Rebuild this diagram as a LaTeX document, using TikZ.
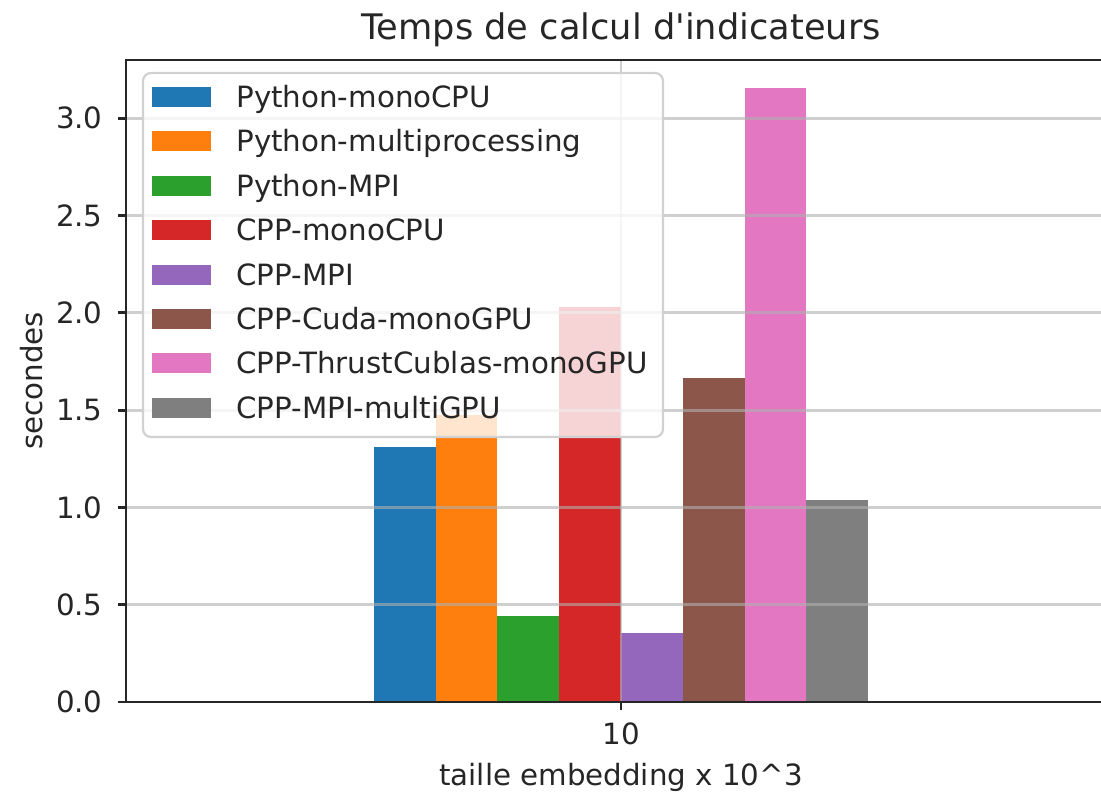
\documentclass[tikz,border=0pt]{standalone}
\usepackage{fontspec}
\newfontfamily\plotfont{DejaVu Sans}
\definecolor{tabblue}{HTML}{1F77B4}
\definecolor{taborange}{HTML}{FF7F0E}
\definecolor{tabgreen}{HTML}{2CA02C}
\definecolor{tabred}{HTML}{D62728}
\definecolor{tabpurple}{HTML}{9467BD}
\definecolor{tabbrown}{HTML}{8C564B}
\definecolor{tabpink}{HTML}{E377C2}
\definecolor{tabgray}{HTML}{7F7F7F}
\definecolor{gridgray}{HTML}{B0B0B0}
\definecolor{inkgray}{HTML}{262626}
\begin{document}
\begin{tikzpicture}[x=0.5pt,y=-0.5pt,
  font=\plotfont\fontsize{14.65}{17}\selectfont,
  gridline/.style={draw=gridgray,draw opacity=0.6,line width=1.4pt},
  spine/.style={draw=inkgray,line width=1.4pt},
  ticklabel/.style={inner sep=0pt,text=inkgray},
  legendframe/.style={draw=black!18,line width=1.1pt,fill=white,fill opacity=0.8,rounded corners=4pt},
  swatch/.style={inner sep=0pt}
]
% scale: value 1 s = 194.6 px, baseline at y = 702
\useasboundingbox (0,0) rectangle (1101,792);
\fill[white] (0,0) rectangle (1101,792);

% bars
\foreach \i/\h/\c in {0/1.31/tabblue,1/1.475/taborange,2/0.44/tabgreen,3/2.03/tabred,
                      4/0.355/tabpurple,5/1.665/tabbrown,6/3.155/tabpink,7/1.038/tabgray}
  \fill[\c] ({373.8+61.8*\i},702) rectangle ({373.8+61.8*(\i+1)},{702-194.6*\h});

% grid
\foreach \v in {0.5,1.0,1.5,2.0,2.5,3.0}
  \draw[gridline] (126,{702-194.6*\v}) -- (1101,{702-194.6*\v});
\draw[gridline] (621,60) -- (621,702);

% spines
\draw[spine] (1101,60) -- (126,60) -- (126,702) -- (1101,702);

% y ticks
\foreach \v/\t in {0/0.0,0.5/0.5,1/1.0,1.5/1.5,2/2.0,2.5/2.5,3/3.0} {
  \draw[spine] (118,{702-194.6*\v}) -- (126,{702-194.6*\v});
  \node[ticklabel,anchor=east] (yt\t) at (103,{702-194.6*\v}) {\t};
}
% x tick
\draw[spine] (621,702) -- (621,710);
\node[ticklabel,anchor=north] (xt) at (621,722) {10};

% labels
\node[ticklabel,anchor=base] (xlabel) at (621,785) {taille embedding x 10\char"005E 3};
\node[ticklabel,anchor=base,rotate=90] (ylabel) at (42,381) {secondes};
\node[ticklabel,anchor=base,font=\plotfont\fontsize{17.6}{20}\selectfont] (title) at (621,40) {Temps de calcul d'indicateurs};

% legend
\draw[legendframe] (143,73) rectangle (663,437);
\foreach \i/\c/\t in {0/tabblue/Python-monoCPU,1/taborange/Python-multiprocessing,
                      2/tabgreen/Python-MPI,3/tabred/CPP-monoCPU,4/tabpurple/CPP-MPI,
                      5/tabbrown/CPP-Cuda-monoGPU,6/tabpink/CPP-ThrustCublas-monoGPU,
                      7/tabgray/CPP-MPI-multiGPU} {
  \fill[\c] (152,{87+44.4*\i}) rectangle (211,{107+44.4*\i});
  \node[ticklabel,anchor=base west] (leg\i) at (236,{107.4+44.4*\i}) {\t};
}
\end{tikzpicture}
\end{document}
